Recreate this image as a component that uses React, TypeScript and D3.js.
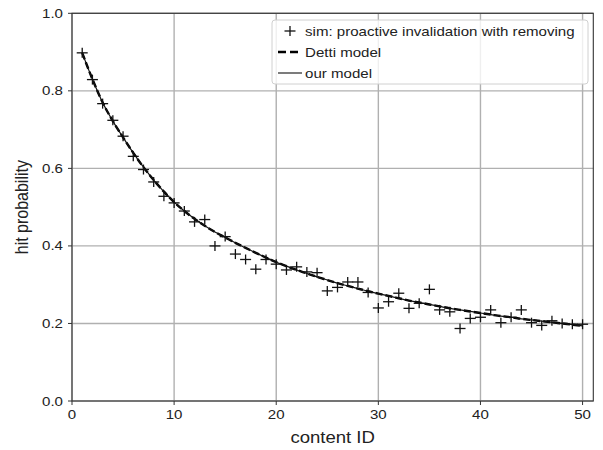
import React from "react";
import * as d3 from "d3";

const contentIds: number[] = Array.from({ length: 50 }, (_, i) => i + 1);

const simValues: number[] = [
  0.898, 0.829, 0.767, 0.724, 0.683, 0.631, 0.597, 0.565, 0.528, 0.511,
  0.490, 0.462, 0.468, 0.400, 0.424, 0.379, 0.365, 0.340, 0.365, 0.353,
  0.338, 0.346, 0.333, 0.331, 0.284, 0.293, 0.307, 0.307, 0.280, 0.240,
  0.256, 0.278, 0.239, 0.252, 0.288, 0.235, 0.230, 0.187, 0.213, 0.216,
  0.235, 0.202, 0.216, 0.235, 0.202, 0.195, 0.207, 0.200, 0.198, 0.198,
];

const dettiValues: number[] = [
  0.898, 0.830, 0.770, 0.722, 0.680, 0.640, 0.603, 0.570, 0.540, 0.513,
  0.490, 0.470, 0.452, 0.436, 0.422, 0.408, 0.395, 0.382, 0.370, 0.358,
  0.348, 0.338, 0.329, 0.320, 0.312, 0.304, 0.297, 0.290, 0.283, 0.277,
  0.271, 0.265, 0.259, 0.254, 0.249, 0.244, 0.239, 0.235, 0.231, 0.227,
  0.223, 0.219, 0.216, 0.212, 0.209, 0.206, 0.203, 0.200, 0.197, 0.194,
];

const ourValues: number[] = [
  0.898, 0.830, 0.770, 0.722, 0.680, 0.640, 0.603, 0.570, 0.540, 0.513,
  0.490, 0.470, 0.452, 0.436, 0.422, 0.408, 0.395, 0.382, 0.370, 0.358,
  0.348, 0.338, 0.329, 0.320, 0.312, 0.304, 0.297, 0.290, 0.283, 0.277,
  0.271, 0.265, 0.259, 0.254, 0.249, 0.244, 0.239, 0.235, 0.231, 0.227,
  0.223, 0.219, 0.216, 0.212, 0.209, 0.206, 0.203, 0.200, 0.197, 0.194,
];

const xTicks: number[] = [0, 10, 20, 30, 40, 50];
const yTicks: number[] = [0, 0.2, 0.4, 0.6, 0.8, 1.0];
const legendLabels: string[] = [
  "sim: proactive invalidation with removing",
  "Detti model",
  "our model",
];

const W = 603;
const H = 450;
const left = 72;
const right = 593.3;
const top = 13.3;
const bottom = 401;
const font = "'Liberation Sans', Arial, Helvetica, sans-serif";
const SX = 1.16;

export default function App() {
  const x = d3.scaleLinear().domain([0, 51.05]).range([left, right]);
  const y = d3.scaleLinear().domain([0, 1]).range([bottom, top]);
  const line = d3
    .line<number>()
    .x((_, i) => x(contentIds[i]))
    .y((d) => y(d))
    .curve(d3.curveMonotoneX);

  const lx = 272;
  const ly = 20;
  const rowY = [31, 52, 73];

  return (
    <svg
      width={W}
      height={H}
      style={{ position: "absolute", left: 0, top: 0, background: "#fff" }}
    >
      <rect x={0} y={0} width={W} height={H} fill="#fff" />
      {/* grid */}
      {xTicks.map((t) => (
        <line
          key={"gx" + t}
          x1={x(t)}
          x2={x(t)}
          y1={top}
          y2={bottom}
          stroke="#b0b0b0"
          strokeWidth={1.4}
        />
      ))}
      {yTicks.map((t) => (
        <line
          key={"gy" + t}
          x1={left}
          x2={right}
          y1={y(t)}
          y2={y(t)}
          stroke="#b0b0b0"
          strokeWidth={1.4}
        />
      ))}
      {/* lines */}
      <path
        d={line(dettiValues) || ""}
        fill="none"
        stroke="#000"
        strokeWidth={2.4}
        strokeDasharray="7,3"
      />
      <path
        d={line(ourValues) || ""}
        fill="none"
        stroke="#111"
        strokeWidth={1.2}
      />
      {/* markers */}
      {simValues.map((v, i) => {
        const cx = x(contentIds[i]);
        const cy = y(v);
        return (
          <g key={"m" + i} stroke="#111" strokeWidth={1.3}>
            <line x1={cx - 5.5} x2={cx + 5.5} y1={cy} y2={cy} />
            <line x1={cx} x2={cx} y1={cy - 5} y2={cy + 5} />
          </g>
        );
      })}
      {/* spines */}
      <rect
        x={left}
        y={top}
        width={right - left}
        height={bottom - top}
        fill="none"
        stroke="#333"
        strokeWidth={1.1}
      />
      {/* ticks */}
      {xTicks.map((t) => (
        <g key={"tx" + t}>
          <line x1={x(t)} x2={x(t)} y1={bottom} y2={bottom + 4} stroke="#333" strokeWidth={1} />
          <text
            transform={`translate(${x(t)},${bottom + 18}) scale(${SX},1)`}
            textAnchor="middle"
            fontFamily={font}
            fontSize={13}
            fill="#222"
          >
            {t}
          </text>
        </g>
      ))}
      {yTicks.map((t) => (
        <g key={"ty" + t}>
          <line x1={left - 4} x2={left} y1={y(t)} y2={y(t)} stroke="#333" strokeWidth={1} />
          <text
            transform={`translate(${left - 9},${y(t) + 4.5}) scale(${SX},1)`}
            textAnchor="end"
            fontFamily={font}
            fontSize={13}
            fill="#222"
          >
            {t.toFixed(1)}
          </text>
        </g>
      ))}
      {/* axis labels */}
      <text
        transform={`translate(${(left + right) / 2},443) scale(${SX},1)`}
        textAnchor="middle"
        fontFamily={font}
        fontSize={16}
        fill="#222"
      >
        content ID
      </text>
      <text
        transform={`translate(28,${(top + bottom) / 2}) rotate(-90) scale(1,${SX})`}
        textAnchor="middle"
        fontFamily={font}
        fontSize={16}
        fill="#222"
      >
        hit probability
      </text>
      {/* legend */}
      <rect
        x={lx}
        y={ly}
        width={316}
        height={64}
        rx={3}
        fill="#fff"
        fillOpacity={0.8}
        stroke="#d0d0d0"
        strokeWidth={1}
      />
      <g stroke="#111" strokeWidth={1.3}>
        <line x1={284.5} x2={295.5} y1={rowY[0]} y2={rowY[0]} />
        <line x1={290} x2={290} y1={rowY[0] - 5} y2={rowY[0] + 5} />
      </g>
      <line x1={278} x2={302} y1={rowY[1]} y2={rowY[1]} stroke="#000" strokeWidth={2.4} strokeDasharray="8,4" />
      <line x1={278} x2={302} y1={rowY[2]} y2={rowY[2]} stroke="#111" strokeWidth={1.1} />
      {legendLabels.map((s, i) => (
        <text
          key={s}
          transform={`translate(305,${rowY[i] + 4.5}) scale(${SX},1)`}
          fontFamily={font}
          fontSize={13}
          fill="#222"
        >
          {s}
        </text>
      ))}
    </svg>
  );
}
